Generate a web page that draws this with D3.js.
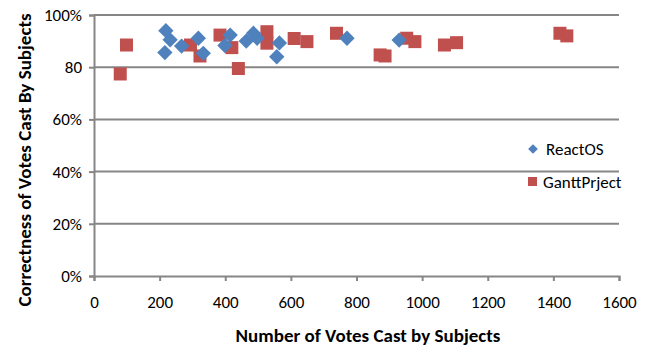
<!DOCTYPE html>
<html>
<head>
<meta charset="utf-8">
<script src="https://cdn.jsdelivr.net/npm/d3@7"></script>
<style>
  body { margin: 0; background: #fff; }
  svg text { font-family: Carlito, Calibri, Lato, sans-serif; fill: #000; }
</style>
</head>
<body>
<svg id="chart" width="648" height="348"></svg>
<script>
// ReactOS subjects: votes cast and share of correct votes
const reactVotes   = [219, 232, 216, 267, 318, 333, 399, 415, 464, 486, 497, 565, 557, 771, 930];
const reactCorrect = [0.940, 0.905, 0.856, 0.881, 0.911, 0.853, 0.883, 0.923, 0.900, 0.930, 0.911, 0.893, 0.840, 0.911, 0.904];

// GanttProject subjects
const ganttVotes   = [80, 99, 294, 323, 384, 420, 440, 527, 527, 610, 649, 739, 872, 887, 953, 978, 1068, 1105, 1420, 1441];
const ganttCorrect = [0.774, 0.885, 0.885, 0.843, 0.923, 0.875, 0.795, 0.936, 0.892, 0.910, 0.898, 0.930, 0.847, 0.843, 0.911, 0.898, 0.885, 0.894, 0.930, 0.920];

const xTicks = [0, 200, 400, 600, 800, 1000, 1200, 1400, 1600];
const yTicks = [0, 0.2, 0.4, 0.6, 0.8, 1.0];
const yTickLabels = ["0%", "20%", "40%", "60%", "80", "100%"];
const seriesNames = ["ReactOS", "GanttPrject"];

const axisColor = "#868686";
const blue = "#4F81BD";
const red = "#C0504D";
const fontStack = "Carlito, Calibri, Lato, sans-serif";

const svg = d3.select("#chart");
const x = d3.scaleLinear().domain([0, 1600]).range([94, 619]);
const y = d3.scaleLinear().domain([0, 1]).range([276, 15]);

// horizontal gridlines
svg.append("g").selectAll("line")
  .data(yTicks.filter(v => v > 0))
  .join("line")
  .attr("x1", x(0)).attr("x2", x(1600))
  .attr("y1", d => y(d)).attr("y2", d => y(d))
  .attr("stroke", axisColor).attr("stroke-width", 2);

// x axis
const xAxis = svg.append("g")
  .attr("transform", `translate(0,${y(0)})`)
  .call(d3.axisBottom(x).tickValues(xTicks).tickSize(5).tickPadding(15).tickFormat(d3.format("d")));
xAxis.select(".domain").attr("stroke", axisColor).attr("stroke-width", 2);
xAxis.selectAll(".tick line").attr("stroke", axisColor).attr("stroke-width", 2);
xAxis.selectAll(".tick text").attr("font-size", 17).style("font-family", fontStack);

// y axis
const yAxis = svg.append("g")
  .attr("transform", `translate(${x(0)},0)`)
  .call(d3.axisLeft(y).tickValues(yTicks).tickSize(5).tickPadding(7)
    .tickFormat((d, i) => yTickLabels[i]));
yAxis.select(".domain").attr("stroke", axisColor).attr("stroke-width", 2);
yAxis.selectAll(".tick line").attr("stroke", axisColor).attr("stroke-width", 2);
yAxis.selectAll(".tick text").attr("font-size", 17).style("font-family", fontStack);

// axis titles
svg.append("text")
  .attr("x", 368).attr("y", 342)
  .attr("text-anchor", "middle")
  .attr("font-size", 19).attr("font-weight", "bold")
  .text("Number of Votes Cast by Subjects");

svg.append("text")
  .attr("transform", "translate(31,160) rotate(-90)")
  .attr("text-anchor", "middle")
  .attr("font-size", 19).attr("font-weight", "bold")
  .text("Correctness of Votes Cast By Subjects");

// GanttPrject squares
const sq = 13;
svg.append("g").selectAll("rect")
  .data(ganttVotes.map((v, i) => [v, ganttCorrect[i]]))
  .join("rect")
  .attr("x", d => x(d[0]) - sq / 2)
  .attr("y", d => y(d[1]) - sq / 2)
  .attr("width", sq).attr("height", sq)
  .attr("fill", red);

// ReactOS diamonds
const diamond = d3.symbol().type(d3.symbolDiamond2).size(150);
svg.append("g").selectAll("path")
  .data(reactVotes.map((v, i) => [v, reactCorrect[i]]))
  .join("path")
  .attr("d", diamond)
  .attr("transform", d => `translate(${x(d[0])},${y(d[1])})`)
  .attr("fill", blue);

// legend
const legend = svg.append("g");
legend.append("path")
  .attr("d", d3.symbol().type(d3.symbolDiamond2).size(60)())
  .attr("transform", "translate(533,149)")
  .attr("fill", blue);
legend.append("text")
  .attr("x", 546).attr("y", 155)
  .attr("font-size", 17)
  .text(seriesNames[0]);
legend.append("rect")
  .attr("x", 528).attr("y", 177).attr("width", 9).attr("height", 9)
  .attr("fill", red);
legend.append("text")
  .attr("x", 543).attr("y", 188)
  .attr("font-size", 17)
  .text(seriesNames[1]);
</script>
</body>
</html>
